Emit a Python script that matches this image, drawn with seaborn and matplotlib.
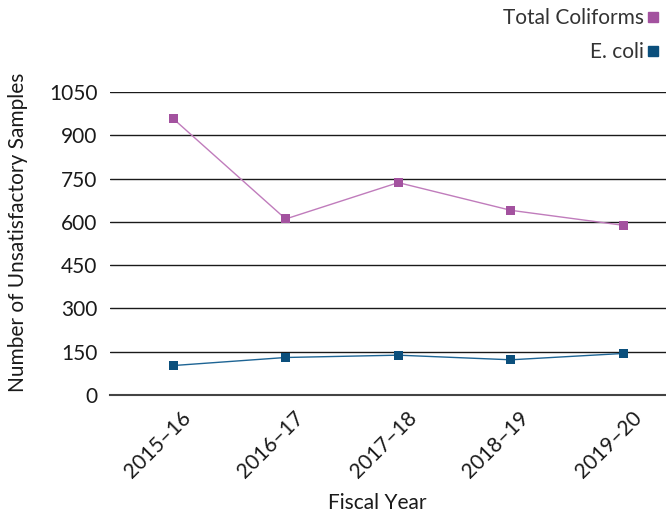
import matplotlib
matplotlib.use("Agg")
import matplotlib.pyplot as plt
import matplotlib.transforms as mtransforms
import seaborn as sns
import pandas as pd
from matplotlib.lines import Line2D

years = ["2015\u201316", "2016\u201317", "2017\u201318", "2018\u201319", "2019\u201320"]
total_coliforms = [958, 610, 736, 640, 588]
e_coli = [102, 130, 138, 122, 144]
series_names = ["Total Coliforms", "E. coli"]
colors = {"Total Coliforms": "#a3529f", "E. coli": "#0b4f7c"}
line_colors = {"Total Coliforms": "#c07cbc", "E. coli": "#1d6494"}
y_ticks = [0, 150, 300, 450, 600, 750, 900, 1050]

df = pd.DataFrame({
    "year": years * 2,
    "value": total_coliforms + e_coli,
    "series": [series_names[0]] * len(years) + [series_names[1]] * len(years),
})

sns.set_theme(style="white")
plt.rcParams["font.family"] = ["Lato", "DejaVu Sans"]
text_color = "#1a1a1a"
fs = 15

fig = plt.figure(figsize=(6.66, 5.16), dpi=100)
ax = fig.add_axes([110 / 666, 121 / 516, 563 / 666, 303 / 516])

sns.lineplot(data=df, x="year", y="value", hue="series", palette=line_colors,
             sort=False, linewidth=1.0, legend=False, ax=ax, zorder=3)

# square markers on top of the lines
for name, vals in zip(series_names, [total_coliforms, e_coli]):
    ax.scatter(years, vals, marker="s", s=42, color=colors[name],
               edgecolor="none", zorder=4)

ax.set_xlim(-0.56, 4.44)
ax.set_ylim(0, 1050)
ax.set_yticks(y_ticks)
ax.set_yticklabels([str(v) for v in y_ticks], fontsize=fs, color=text_color)
for v in y_ticks[1:]:
    ax.axhline(v, color="#1a1a1a", linewidth=1.0, zorder=1)

ax.set_xticks(range(len(years)))
ax.set_xticklabels(years, rotation=45, ha="right", rotation_mode="anchor",
                   fontsize=fs, color=text_color)
ax.tick_params(axis="x", length=0, pad=9)
ax.tick_params(axis="y", length=0, pad=9)

# nudge the rotated year labels a little to the right
shift = mtransforms.ScaledTranslation(8 / 100, 0, fig.dpi_scale_trans)
for lbl in ax.get_xticklabels():
    lbl.set_transform(lbl.get_transform() + shift)

# category boundary ticks on the x axis
ax.set_xticks([i - 0.56 for i in range(len(years) + 1)], minor=True)
ax.tick_params(axis="x", which="minor", direction="in", length=10,
               width=1.0, color="#444444")

for side in ["top", "right", "left"]:
    ax.spines[side].set_visible(False)
ax.spines["bottom"].set_color("#444444")
ax.spines["bottom"].set_linewidth(1.5)

ax.set_xlabel("Fiscal Year", fontsize=fs, color=text_color)
ax.set_ylabel("Number of Unsatisfactory Samples", fontsize=fs, color=text_color)
ax.xaxis.set_label_coords((377 - 110) / 563, -(503 - 395) / 303)
ax.yaxis.set_label_coords(-(110 - 18) / 563, (395 - 232) / 303)
ax.xaxis.label.set_va("center")
ax.yaxis.label.set_va("center")

handles = [Line2D([], [], linestyle="none", marker="s", markersize=7,
                  color=colors[n]) for n in series_names]
fig.legend(handles, series_names, loc="upper right", bbox_to_anchor=(0.998, 0.99),
           frameon=False, markerfirst=False, labelspacing=0.65,
           handletextpad=0.05, handlelength=0.8, borderpad=0.15,
           borderaxespad=0.0, labelcolor="#333333",
           prop={"size": fs})

fig.savefig("out.png", dpi=100)
